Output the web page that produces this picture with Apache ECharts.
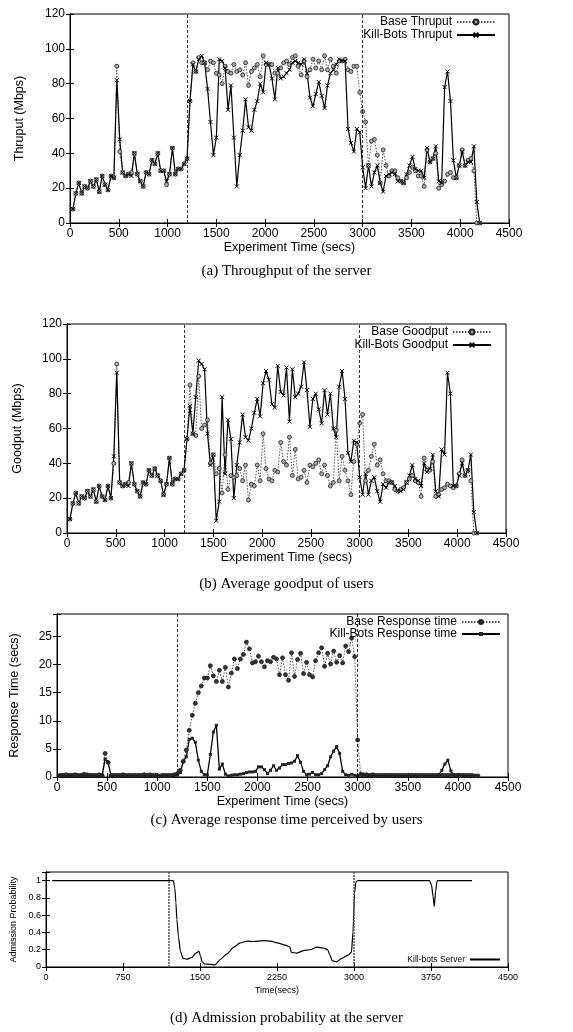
<!DOCTYPE html>
<html>
<head>
<meta charset="utf-8">
<script src="https://cdn.jsdelivr.net/npm/echarts@6/dist/echarts.min.js"></script>
<style>
html, body { margin: 0; padding: 0; background: #fff; }
#main { width: 573px; height: 1032px; }
</style>
</head>
<body>
<div id="main"></div>
<script>
// sampling times (secs), one point every 30 s
var times = [30,60,90,120,150,180,210,240,270,300,330,360,390,420,450,480,510,540,570,600,
    630,660,690,720,750,780,810,840,870,900,930,960,990,1020,1050,1080,1110,1140,1170,1200,
    1230,1260,1290,1320,1350,1380,1410,1440,1470,1500,1530,1560,1590,1620,1650,1680,1710,1740,1770,1800,
    1830,1860,1890,1920,1950,1980,2010,2040,2070,2100,2130,2160,2190,2220,2250,2280,2310,2340,2370,2400,
    2430,2460,2490,2520,2550,2580,2610,2640,2670,2700,2730,2760,2790,2820,2850,2880,2910,2940,2970,3000,
    3030,3060,3090,3120,3150,3180,3210,3240,3270,3300,3330,3360,3390,3420,3450,3480,3510,3540,3570,3600,
    3630,3660,3690,3720,3750,3780,3810,3840,3870,3900,3930,3960,3990,4020,4050,4080,4110,4140,4170,4200];

// (a) throughput
var thruBase = [8,17,23,17,21,20,24,21,25,18,27,22,19,27,26,90,41,29,27,28,29,40,28,24,21,29,28,36,34,40,30,30,22,28,43,28,31,31,34,37,
    70,92,87,95,92,92,88,93,92,86,85,80,90,87,86,91,87,88,85,92,79,87,89,91,84,96,91,91,91,86,
    86,89,92,93,91,95,96,90,85,93,84,88,94,89,93,88,96,88,94,90,86,93,93,94,88,87,90,90,75,64,
    58,33,47,48,39,23,42,33,27,30,30,26,24,23,26,29,32,30,27,27,21,42,35,37,40,20,22,24,28,29,26,26,33,42,33,36,37,30,0,0];
var thruKB = [8,17,23,17,21,20,24,21,25,18,27,22,19,27,26,82,48,29,27,28,27,40,28,24,21,29,28,36,34,40,30,30,24,28,43,28,31,31,34,37,
    70,91,87,94,96,92,77,58,39,49,94,93,89,65,79,49,21,39,53,71,55,53,65,70,80,75,92,91,83,71,
    89,83,84,86,88,92,93,92,91,94,86,72,67,74,81,73,66,79,86,88,91,94,93,93,54,46,41,54,52,32,
    20,33,21,29,33,23,18,27,28,29,28,24,24,23,28,33,38,31,30,30,26,43,35,37,44,24,23,78,87,70,36,26,33,41,33,35,35,44,12,0];

// (b) goodput
var goodBase = [8,17,23,17,21,20,24,21,25,18,27,21,19,27,20,40,97,29,27,28,29,40,28,24,21,29,28,36,33,37,33,30,22,28,43,28,31,31,34,36,
    54,85,57,56,90,60,62,65,40,45,34,37,23,45,25,33,32,33,37,30,39,19,28,27,39,30,
    57,37,31,30,36,35,52,41,39,55,33,48,31,32,36,29,39,38,40,42,34,39,33,27,29,59,30,44,36,30,22,41,51,63,
    68,30,36,44,51,39,42,34,30,30,29,25,24,25,26,29,31,33,30,29,21,43,36,36,41,21,22,25,26,28,27,26,27,34,42,33,36,30,0,0];
var goodKB = [8,17,23,17,21,20,24,21,25,18,27,21,19,27,20,44,92,29,27,28,27,40,28,24,21,29,28,36,33,37,33,30,22,28,43,28,31,31,34,36,
    54,73,57,78,99,97,94,57,39,45,7,18,78,34,65,54,20,39,52,68,55,53,60,69,77,67,86,93,88,74,
    72,96,81,79,95,64,94,78,80,84,98,82,61,77,80,71,63,82,68,80,60,55,84,93,77,46,41,53,52,32,
    22,34,22,30,32,24,18,28,26,29,29,27,24,24,25,29,33,39,31,30,27,40,35,37,45,24,21,48,45,92,80,27,27,33,40,33,36,45,12,0];

// (c) response time
var respBase = [0.3,0.3,0.4,0.3,0.3,0.4,0.3,0.3,0.5,0.4,0.3,0.3,0.3,0.4,0.3,4.2,2.6,0.3,0.3,0.3,0.3,0.4,0.3,0.3,0.3,0.3,0.3,0.3,0.4,0.3,0.4,0.3,0.3,0.2,0.3,0.3,0.3,0.3,0.4,0.6,
    1.2,2.8,4.8,8.3,11,13.1,15,16.2,17.6,17.6,19.8,18,17,19,17,19.5,16,18.5,21,19.3,21,21.8,24,22.8,20.3,20.5,21.5,20.5,19.6,20.7,
    20.5,21.3,21,18.2,21.2,18.2,17.2,22.1,17.9,20.9,22,18.4,20.4,18.2,17.8,20.7,22.1,23,19.7,22,20.1,22.4,20.4,21.6,20.3,23.3,22.3,24.7,21.4,6.6,
    0.4,0.4,0.4,0.3,0.4,0.3,0.3,0.3,0.3,0.3,0.3,0.3,0.3,0.3,0.3,0.3,0.3,0.3,0.3,0.3,0.3,0.3,0.3,0.3,0.3,0.3,0.3,0.3,0.3,0.3,0.3,0.3,0.3,0.3,0.3,0.3,0.3,0.3,0.2,0.2];
var respKB = [0.2,0.2,0.2,0.2,0.2,0.2,0.2,0.2,0.3,0.2,0.2,0.2,0.2,0.2,0.2,3.2,2.6,0.2,0.2,0.2,0.2,0.2,0.2,0.2,0.2,0.2,0.2,0.2,0.2,0.2,0.2,0.2,0.2,0.2,0.2,0.2,0.2,0.2,0.3,0.4,
    0.8,2.7,3.6,6.7,6.9,6.2,3,1,0.4,0.4,4,8,9.2,1.4,2.3,0.5,0.2,0.3,0.4,0.4,0.5,0.6,0.8,0.9,0.9,1.0,1.8,1.8,1.3,0.6,
    1.2,2.0,1.2,1.6,2.2,2.2,2.4,2.5,2.8,3.8,2.6,1.0,0.4,0.5,0.8,0.4,0.4,0.6,1.3,2.0,3.6,4.6,5.4,4.2,1.0,0.4,0.3,0.5,0.3,0.2,
    0.6,0.3,0.3,0.3,0.2,0.2,0.2,0.2,0.2,0.2,0.2,0.2,0.2,0.2,0.2,0.2,0.2,0.2,0.2,0.2,0.2,0.2,0.2,0.2,0.2,0.2,0.4,1.2,2.3,3.0,1.1,0.2,0.2,0.2,0.2,0.2,0.2,0.2,0.2,0.1];

// (d) admission probability
var admTime = [60,300,600,900,1200,1240,1255,1265,1275,1290,1310,1335,1370,1420,1460,1490,1505,1520,1545,1600,1645,1700,1760,1830,1890,1960,2020,2120,2190,2250,
    2340,2375,2390,2440,2510,2570,2640,2700,2745,2760,2790,2830,2880,2945,2975,2990,3005,3020,3040,3300,3600,3735,3755,3770,3782,3795,3810,4000,4150];
var admProb = [1,1,1,1,1,1,0.91,0.75,0.55,0.35,0.18,0.1,0.09,0.11,0.16,0.18,0.13,0.06,0.035,0.03,0.025,0.09,0.15,0.23,0.28,0.3,0.295,0.305,0.3,0.28,
    0.25,0.23,0.17,0.16,0.19,0.2,0.23,0.22,0.2,0.15,0.07,0.06,0.1,0.14,0.17,0.4,0.85,0.99,1,1,1,1,0.95,0.82,0.7,0.88,1,1,1];

var attackStart = 1200, attackEnd = 3000;

function pairs(xs, ys) {
    return xs.map(function (x, i) { return [x, ys[i]]; });
}

var sans = 'Liberation Sans';
var serif = 'Liberation Serif';
var crossMark = 'path://M0,0L10,10M10,0L0,10';

var panels = [
    {left: 70, top: 14, width: 439, height: 209, xMax: 4500, xStep: 500, yMax: 120, yStep: 20,
        yName: 'Thruput (Mbps)', xName: 'Experiment Time (secs)', font: 12, nameFont: 12.5, yGap: 44, xGap: 17, lblGap: 5},
    {left: 67, top: 324, width: 439, height: 209, xMax: 4500, xStep: 500, yMax: 120, yStep: 20,
        yName: 'Goodput (Mbps)', xName: 'Experiment Time (secs)', font: 12, nameFont: 12.5, yGap: 43, xGap: 17, lblGap: 5},
    {left: 55, top: 614, width: 453, height: 163, xMax: 4500, xStep: 500, yMax: 29, yStep: 5,
        yName: 'Response Time (secs)', xName: 'Experiment Time (secs)', font: 12, nameFont: 12.5, yGap: 36, xGap: 17, lblGap: 5},
    {left: 46, top: 872, width: 462, height: 95, xMax: 4500, xStep: 750, yMax: 1.1, yStep: 0.2,
        yName: 'Admission Probability', xName: 'Time(secs)', font: 9, nameFont: 9, yGap: 28, xGap: 19, lblGap: 6}
];

var grids = [], xAxes = [], yAxes = [];
panels.forEach(function (p, i) {
    grids.push({left: p.left, top: p.top, width: p.width, height: p.height, show: true,
        borderColor: '#000', borderWidth: 1, backgroundColor: 'transparent'});
    xAxes.push({type: 'value', gridIndex: i, min: 0, max: p.xMax, interval: p.xStep,
        name: p.xName, nameLocation: 'middle', nameGap: p.xGap,
        nameTextStyle: {fontFamily: sans, fontSize: p.nameFont, color: '#000'},
        axisLine: {lineStyle: {color: '#000'}},
        axisTick: {inside: true, length: 4, lineStyle: {color: '#000'}},
        axisLabel: {fontFamily: sans, fontSize: p.font, color: '#000', margin: p.lblGap,
            formatter: function (v) { return String(v); }},
        splitLine: {show: false}});
    yAxes.push({type: 'value', gridIndex: i, min: 0, max: p.yMax, interval: p.yStep,
        name: p.yName, nameLocation: 'middle', nameGap: p.yGap,
        nameTextStyle: {fontFamily: sans, fontSize: p.nameFont, color: '#000'},
        axisLine: {lineStyle: {color: '#000'}},
        axisTick: {inside: true, length: 4, lineStyle: {color: '#000'}},
        axisLabel: {fontFamily: sans, fontSize: p.font, color: '#000', margin: 5,
            formatter: function (v) {
                var k = v / p.yStep;
                return Math.abs(k - Math.round(k)) > 1e-6 ? '' : String(Math.round(v * 10) / 10);
            }},
        splitLine: {show: false}});
});
// mirrored ticks on top and right edges
panels.forEach(function (p, i) {
    xAxes.push({type: 'value', gridIndex: i, position: 'top', min: 0, max: p.xMax, interval: p.xStep,
        axisLine: {lineStyle: {color: '#000'}}, axisTick: {inside: true, length: 4, lineStyle: {color: '#000'}},
        axisLabel: {show: false}, splitLine: {show: false}});
    yAxes.push({type: 'value', gridIndex: i, position: 'right', min: 0, max: p.yMax, interval: p.yStep,
        axisLine: {lineStyle: {color: '#000'}}, axisTick: {inside: true, length: 4, lineStyle: {color: '#000'}},
        axisLabel: {show: false}, splitLine: {show: false}});
});

function phaseLines(width, color, dash) {
    return {silent: true, symbol: ['none', 'none'], label: {show: false}, animation: false,
        lineStyle: {color: color, width: width, type: dash},
        data: [{xAxis: attackStart}, {xAxis: attackEnd}]};
}

function baseSeries(name, idx, values, dotFill) {
    return {type: 'line', name: name, xAxisIndex: idx, yAxisIndex: idx, data: pairs(times, values),
        symbol: 'circle', symbolSize: 4, showAllSymbol: true,
        lineStyle: {color: '#555', width: 1, type: [1.5, 1.5]},
        itemStyle: {color: dotFill, borderColor: '#222', borderWidth: 0.8},
        markLine: phaseLines(0.8, '#000', [3, 2])};
}

function legendFor(name, right, top, font, iconW, iconH, hideMark) {
    var lg = {data: [name], right: right, top: top, orient: 'vertical', align: 'right',
        itemWidth: iconW, itemHeight: iconH, itemGap: 0, padding: 0, selectedMode: false,
        textStyle: {fontFamily: sans, fontSize: font, color: '#000'}};
    if (hideMark) {
        lg.itemStyle = {color: 'transparent', borderColor: 'transparent', borderWidth: 0};
    }
    return lg;
}

var chart = echarts.init(document.getElementById('main'));
chart.setOption({
    animation: false,
    backgroundColor: '#fff',
    title: [
        {text: '(a) Throughput of the server', left: 'center', top: 259},
        {text: '(b) Average goodput of users', left: 'center', top: 572},
        {text: '(c) Average response time perceived by users', left: 'center', top: 808},
        {text: '(d) Admission probability at the server', left: 'center', top: 1006}
    ].map(function (t) {
        t.textStyle = {fontFamily: serif, fontSize: 15, fontWeight: 'normal', color: '#000'};
        return t;
    }),
    legend: [
        legendFor('Base Thruput', 77, 16, 12, 38, 6),
        legendFor('Kill-Bots Thruput', 77, 29, 12, 38, 6),
        legendFor('Base Goodput', 81, 326, 12, 38, 6),
        legendFor('Kill-Bots Goodput', 81, 339, 12, 38, 6),
        legendFor('Base Response time', 72, 616, 12, 38, 5),
        legendFor('Kill-Bots Response time', 72, 628, 12, 38, 5),
        legendFor('Kill-bots Server', 72, 955, 8.5, 30, 6, true)
    ],
    grid: grids,
    xAxis: xAxes,
    yAxis: yAxes,
    series: [
        baseSeries('Base Thruput', 0, thruBase, '#aaa'),
        {type: 'line', name: 'Kill-Bots Thruput', xAxisIndex: 0, yAxisIndex: 0, data: pairs(times, thruKB),
            symbol: crossMark, symbolSize: 4, showAllSymbol: true,
            lineStyle: {color: '#000', width: 1.2},
            itemStyle: {color: '#000', borderColor: '#000', borderWidth: 1}},
        baseSeries('Base Goodput', 1, goodBase, '#aaa'),
        {type: 'line', name: 'Kill-Bots Goodput', xAxisIndex: 1, yAxisIndex: 1, data: pairs(times, goodKB),
            symbol: crossMark, symbolSize: 4, showAllSymbol: true,
            lineStyle: {color: '#000', width: 1.2},
            itemStyle: {color: '#000', borderColor: '#000', borderWidth: 1}},
        baseSeries('Base Response time', 2, respBase, '#333'),
        {type: 'line', name: 'Kill-Bots Response time', xAxisIndex: 2, yAxisIndex: 2, data: pairs(times, respKB),
            symbol: 'rect', symbolSize: 3, showAllSymbol: true,
            lineStyle: {color: '#000', width: 1.3},
            itemStyle: {color: '#222'}},
        {type: 'line', name: 'Kill-bots Server', xAxisIndex: 3, yAxisIndex: 3, data: pairs(admTime, admProb),
            symbol: 'none', smooth: 0.2, smoothMonotone: 'x',
            lineStyle: {color: '#000', width: 1.2},
            itemStyle: {color: '#000'},
            markLine: phaseLines(1.5, '#555', [2, 1])}
    ]
});
</script>
</body>
</html>
